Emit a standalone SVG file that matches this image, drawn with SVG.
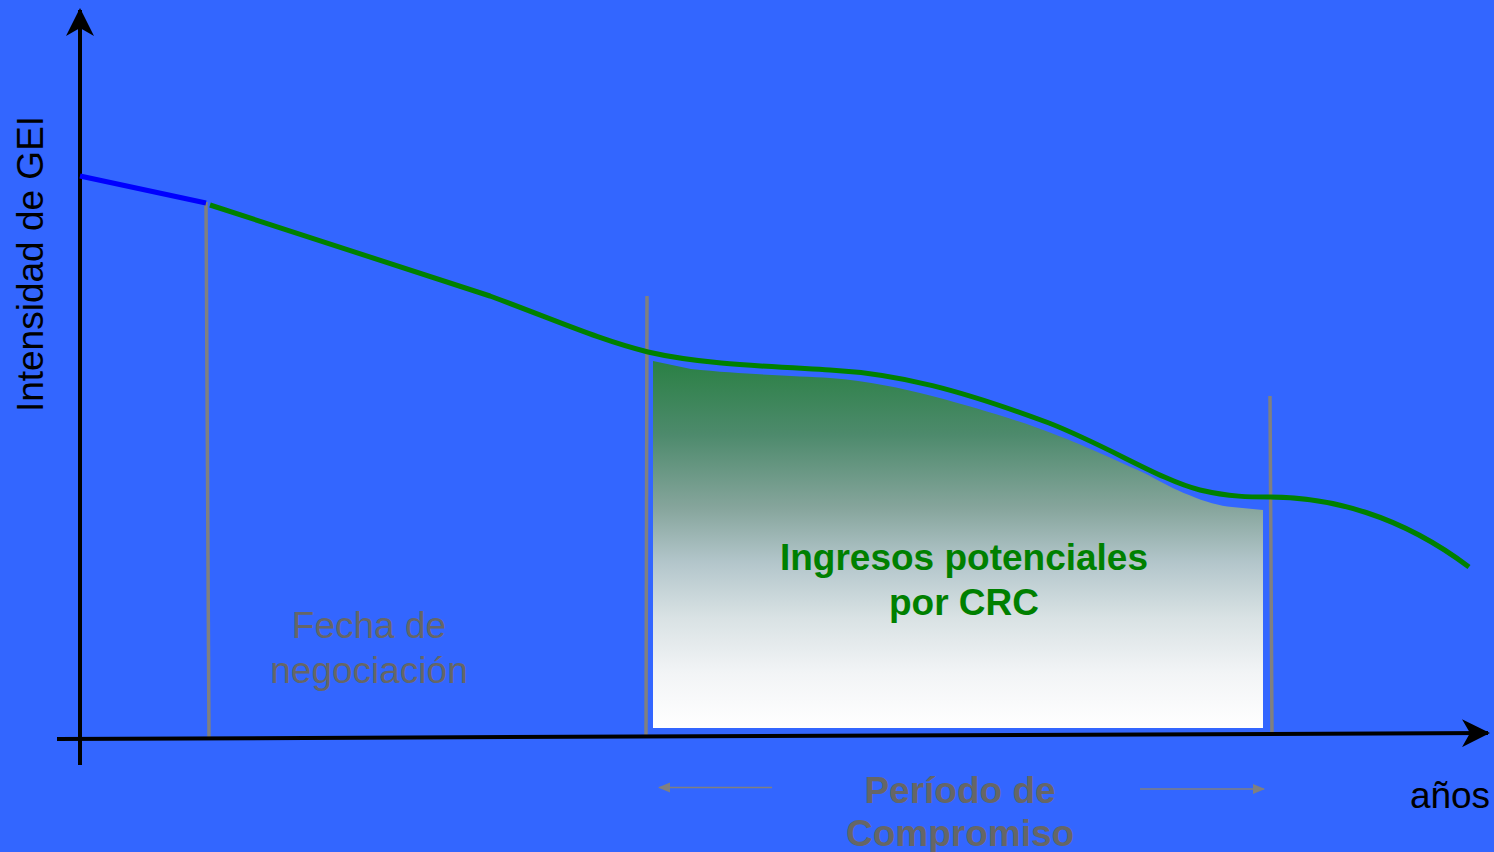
<svg xmlns="http://www.w3.org/2000/svg" width="1494" height="852" viewBox="0 0 1494 852">
<defs>
<linearGradient id="fillGrad" x1="0" y1="361" x2="0" y2="728" gradientUnits="userSpaceOnUse">
<stop offset="0" stop-color="#2a8044"/>
<stop offset="0.2" stop-color="#4d8a6c"/>
<stop offset="0.4" stop-color="#86a59c"/>
<stop offset="0.55" stop-color="#b3c6cb"/>
<stop offset="0.7" stop-color="#d9e2e4"/>
<stop offset="0.85" stop-color="#f2f4f6"/>
<stop offset="1" stop-color="#ffffff"/>
</linearGradient>
<marker id="axisHead" viewBox="0 0 30 28" refX="26" refY="14" markerWidth="30" markerHeight="28" markerUnits="userSpaceOnUse" orient="auto">
<path d="M0,0 L28,14 L0,28 L8,14 Z" fill="#000"/>
</marker>
<marker id="grayHead" viewBox="0 0 12 12" refX="11" refY="6" markerWidth="12" markerHeight="12" markerUnits="userSpaceOnUse" orient="auto">
<path d="M0,1 L12,6 L0,11 Z" fill="#808080"/>
</marker>
<style>
.axis{stroke:#000;stroke-width:4;fill:none}
.gray{stroke:#808080;stroke-width:3.5;fill:none}
.thin{stroke:#808080;stroke-width:1.5;fill:none}
.curve{stroke:#008000;stroke-width:5;fill:none;stroke-linejoin:round}
.t{font-family:"Liberation Sans",Arial,sans-serif;font-size:37px;text-anchor:middle}
</style>
</defs>
<rect width="1494" height="852" fill="#3366ff"/>
<g id="region">
<path d="M653,361 L691,369 C750,375 800,376 830,378 C870,381 900,388 932,396 C970,406 1000,415 1035,427 C1080,443 1110,458 1142,472 C1160,481 1175,490 1189,495 C1205,502 1220,506 1232,507 L1263,510 L1263,728 L653,728 Z" fill="url(#fillGrad)"/>
</g>
<g id="connectors">
<line class="gray" x1="206" y1="202" x2="209" y2="739"/>
<line class="gray" x1="647" y1="296" x2="646" y2="737"/>
<line class="gray" x1="1270" y1="396" x2="1272" y2="733"/>
<line class="axis" x1="57" y1="739" x2="1488" y2="733" marker-end="url(#axisHead)"/>
<line class="axis" x1="80" y1="765" x2="80" y2="10" marker-end="url(#axisHead)"/>
<line x1="80" y1="176" x2="206" y2="203" stroke="#0000ff" stroke-width="5"/>
<path class="curve" d="M210,205 L490,296 C560,322 600,340 648,352 C700,364 760,366 830,370 C900,374 960,390 1049,423 C1110,447 1160,480 1200,490 C1230,497 1250,497 1270,497 C1330,497 1400,515 1469,567"/>
<line class="thin" x1="772" y1="787.5" x2="659" y2="787.5" marker-end="url(#grayHead)"/>
<line class="thin" x1="1140" y1="789" x2="1264" y2="789" marker-end="url(#grayHead)"/>
</g>
<g id="label-y">
<text class="t" transform="translate(43,264) rotate(-90)" fill="#000">Intensidad de GEI</text>
</g>
<g id="label-x">
<text class="t" x="1450" y="808" fill="#000">años</text>
</g>
<g id="label-ingresos">
<text class="t" x="964" y="570" fill="#008000" font-weight="bold">Ingresos potenciales</text>
<text class="t" x="964" y="615" fill="#008000" font-weight="bold">por CRC</text>
</g>
<g id="label-fecha">
<text class="t" x="369" y="638" fill="#666666">Fecha de</text>
<text class="t" x="369" y="683" fill="#666666">negociación</text>
</g>
<g id="label-periodo">
<text class="t" x="960" y="803" fill="#666666" font-weight="bold">Período de</text>
<text class="t" x="960" y="846" fill="#666666" font-weight="bold">Compromiso</text>
</g>
</svg>
